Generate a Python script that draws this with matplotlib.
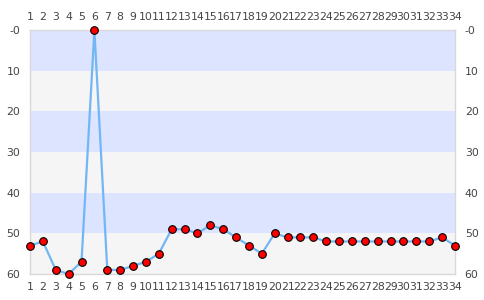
import matplotlib
matplotlib.use("Agg")
import matplotlib.pyplot as plt

# valores
xs = list(range(1, 35))
vals = [53, 52, 59, 60, 57, 0, 59, 59, 58, 57, 55, 49, 49, 50, 48, 49, 51, 53, 55, 50,
        51, 51, 51, 52, 52, 52, 52, 52, 52, 52, 52, 52, 51, 53]
yticks = [0, 10, 20, 30, 40, 50, 60]
ylabels = ["-0", "10", "20", "30", "40", "50", "60"]
band_cols = ["#dde4ff", "#f5f5f5"]

fig = plt.figure(figsize=(4.85, 3.0), dpi=100)
ax = fig.add_axes([30/485, 26/300, 425/485, 244/300])

for i in range(6):
    ax.axhspan(i*10, (i+1)*10, color=band_cols[i % 2], lw=0, zorder=0)

ax.plot(xs, vals, color="#72b6f4", lw=1.6, zorder=2, clip_on=False)
ax.plot(xs, vals, ls="none", marker="o", ms=5.5, mfc="red", mec="black", mew=0.8,
        zorder=3, clip_on=False)

ax.set_xlim(1, 34)
ax.set_ylim(60, 0)
ax.set_xticks(xs)
ax.set_xticklabels([str(x) for x in xs])
ax.set_yticks(yticks)
ax.set_yticklabels(ylabels)
ax.tick_params(axis="x", which="both", length=0, labelsize=7.8, labelcolor="#444444",
               top=True, labeltop=True, pad=5.5)
ax.tick_params(axis="y", which="both", length=0, labelsize=7.8, labelcolor="#444444",
               right=True, labelright=True, pad=7)
for s in ax.spines.values():
    s.set_color("#d8d8d8")
    s.set_linewidth(1)

fig.savefig("out.png", dpi=100)
